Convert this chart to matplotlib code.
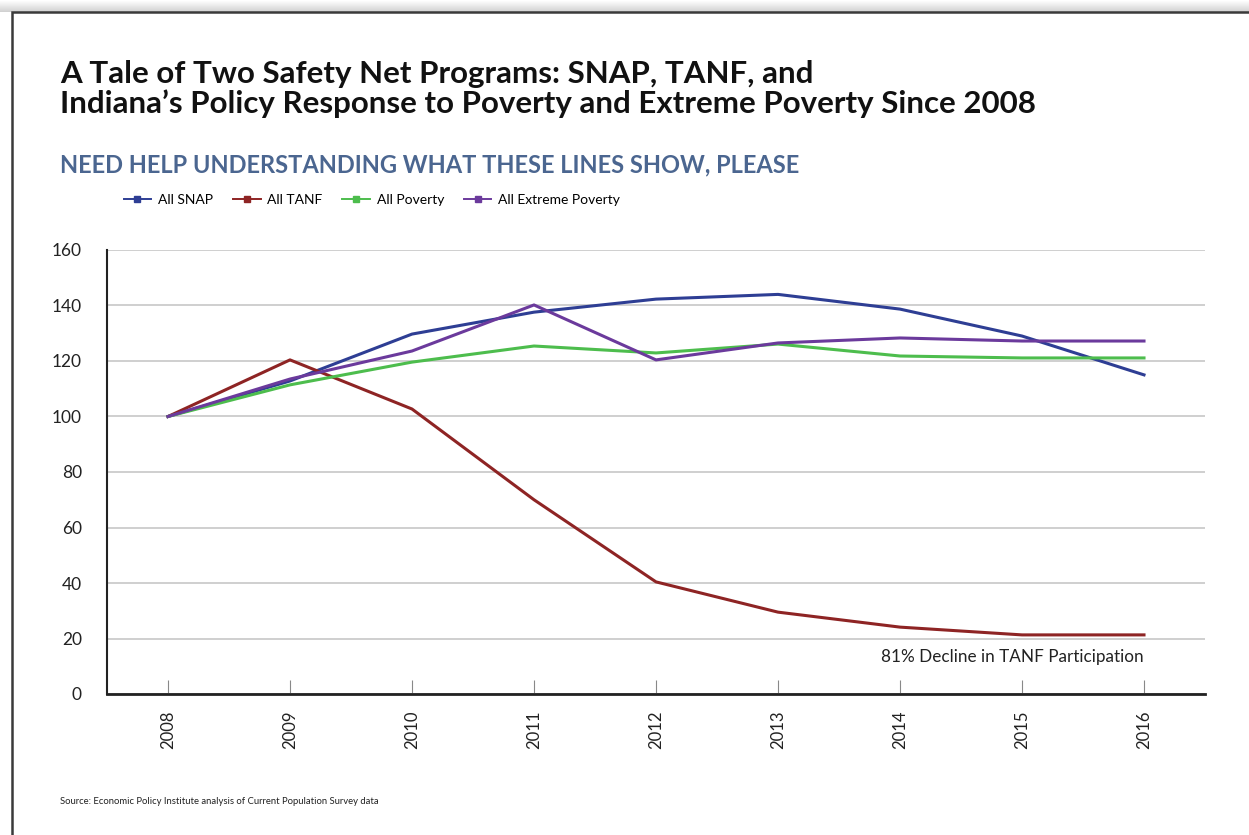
import matplotlib.pyplot as plt
import numpy as np
from matplotlib.patches import Rectangle

years = [2008, 2009, 2010, 2011, 2012, 2013, 2014, 2015, 2016]
snap = [100, 112.8, 129.7, 137.6, 142.3, 144.0, 138.7, 129.0, 115.0]
tanf = [100, 120.4, 102.7, 70.0, 40.4, 29.5, 24.1, 21.3, 21.3]
poverty = [100, 111.4, 119.6, 125.4, 122.9, 126.1, 121.8, 121.1, 121.1]
extreme = [100, 113.5, 123.6, 140.2, 120.4, 126.5, 128.3, 127.2, 127.2]

series_names = ['All SNAP', 'All TANF', 'All Poverty', 'All Extreme Poverty']
colours = ['#2E3E94', '#8E2424', '#4DBD4D', '#6B3A9C']

plt.rcParams['font.family'] = ['Lato', 'DejaVu Sans']

W, H = 1249, 835
fig = plt.figure(figsize=(W / 100, H / 100), dpi=100)

# card border and shadow
shadow = fig.add_axes([0, 1 - 12 / H, 1, 12 / H])
grad = np.linspace(1.0, 0.82, 12).reshape(-1, 1)
shadow.imshow(grad, aspect='auto', cmap='gray', vmin=0, vmax=1, extent=[0, 1, 0, 1])
shadow.axis('off')
fig.patches.append(Rectangle((12 / W, -0.1), 1.2, 1 - 12 / H + 0.1, transform=fig.transFigure,
                             facecolor='none', edgecolor='#3a3a3a', linewidth=1.8))

ax = fig.add_axes([107 / W, 1 - 694 / H, (1205 - 107) / W, (694 - 250) / H])

for vals, name, c in zip([snap, tanf, poverty, extreme], series_names, colours):
    ax.plot(years, vals, color=c, linewidth=2.2, label=name, solid_joinstyle='round')

ax.set_xlim(2007.5, 2016.5)
ax.set_ylim(0, 160)
ax.set_yticks(range(0, 161, 20))
ax.set_xticks(years)
ax.set_xticklabels([str(y) for y in years], rotation=90, fontsize=12, color='#222222')
ax.tick_params(axis='x', direction='in', length=10, width=0.8, color='#888888', pad=12)
ax.tick_params(axis='y', length=0, pad=18, labelsize=12.5, labelcolor='#222222')
ax.grid(axis='y', color='#cfcfcf', linewidth=1.4)
ax.set_axisbelow(True)
for s in ['top', 'right']:
    ax.spines[s].set_visible(False)
ax.spines['left'].set_linewidth(1.5)
ax.spines['bottom'].set_linewidth(2)
ax.spines['left'].set_color('#222222')
ax.spines['bottom'].set_color('#222222')

ax.text(2016, 13.5, '81% Decline in TANF Participation', ha='right', va='center',
        fontsize=12.3, color='#222222')

# legend with small square markers
handles = [plt.Line2D([], [], color=c, linewidth=1.4, marker='s', markersize=4) for c in colours]
fig.legend(handles, series_names, loc='center left', bbox_to_anchor=(118 / W, 1 - 200 / H),
           ncol=4, frameon=False, fontsize=10, handlelength=2.0, handletextpad=0.5,
           columnspacing=1.4, borderaxespad=0)

fig.text(60 / W, 1 - 74 / H, 'A Tale of Two Safety Net Programs: SNAP, TANF, and',
         fontsize=22.5, fontweight='bold', color='#111111', va='center')
fig.text(60 / W, 1 - 104 / H, 'Indiana\u2019s Policy Response to Poverty and Extreme Poverty Since 2008',
         fontsize=22.5, fontweight='bold', color='#111111', va='center')
fig.text(60 / W, 1 - 165 / H, 'NEED HELP UNDERSTANDING WHAT THESE LINES SHOW, PLEASE',
         fontsize=17, fontweight='bold', color='#4B6690', va='center')
fig.text(60 / W, 1 - 802 / H, 'Source: Economic Policy Institute analysis of Current Population Survey data',
         fontsize=6.8, color='#222222', va='center')

fig.savefig('out.png', dpi=100)
